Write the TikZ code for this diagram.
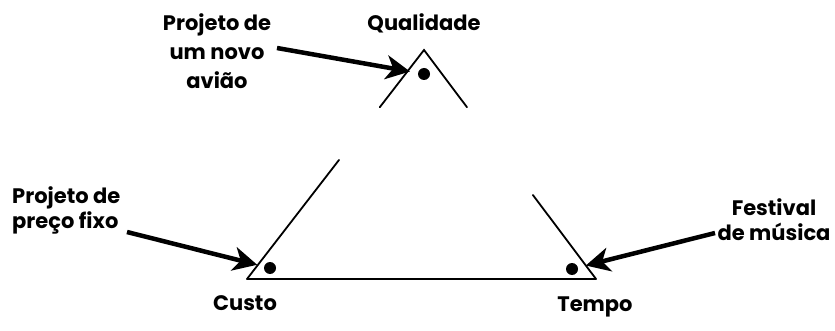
\documentclass[tikz,border=0pt]{standalone}
\usepackage{fontspec}
\setmainfont{Poppins}
\usetikzlibrary{arrows.meta,calc}
\tikzset{
  side/.style={line width=1.8pt,line cap=round},
  pt/.style={circle,fill=black,inner sep=0pt,minimum size=12pt},
  seta/.style={-{Stealth[length=24pt,width=24pt,inset=7pt]},line width=4.5pt},
  lbl/.style={font=\fontsize{21}{25}\selectfont\bfseries,align=center,inner sep=0pt},
}

\begin{document}
\begin{tikzpicture}[x=1pt,y=-1pt]
\useasboundingbox (0,0) rectangle (835,331);

% vertices of the triangle
\coordinate (Q) at (424,50);
\coordinate (C) at (247,279);
\coordinate (T) at (596,279);

% sides (left and right ones are broken)
\draw[side] (C) -- (T);
\draw[side] ($(Q)!0.25!(C)$) -- (Q) -- ($(Q)!0.25!(T)$);
\draw[side] ($(Q)!0.48!(C)$) -- (C);
\draw[side] ($(Q)!0.633!(T)$) -- (T);

% projects
\node[pt] (qdot) at (424,74) {};
\node[pt] (cdot) at (270,268) {};
\node[pt] (tdot) at (572,269) {};

% corner names
\node[lbl] (qual) at (424,23) {Qualidade};
\node[lbl] (custo) at (245,303) {Custo};
\node[lbl] (tempo) at (595,307) {Tempo};

% labels of the projects
\node[lbl,font=\fontsize{21}{29}\selectfont\bfseries] (aviao) at (217,51) {Projeto de\\ um novo\\ avião};
\node[lbl,align=left,anchor=west] (fixo) at (12,210) {Projeto de\\ preço fixo};
\node[lbl] (festa) at (774,220) {Festival\\ de música};

\coordinate (a1) at (277,48);
\coordinate (a2) at (127,232);
\coordinate (a3) at (715,233);
\draw[seta,shorten >=8pt] (a1) -- (qdot);
\draw[seta,shorten >=7pt] (a2) -- (cdot);
\draw[seta,shorten >=8pt] (a3) -- (tdot);

\end{tikzpicture}
\end{document}
